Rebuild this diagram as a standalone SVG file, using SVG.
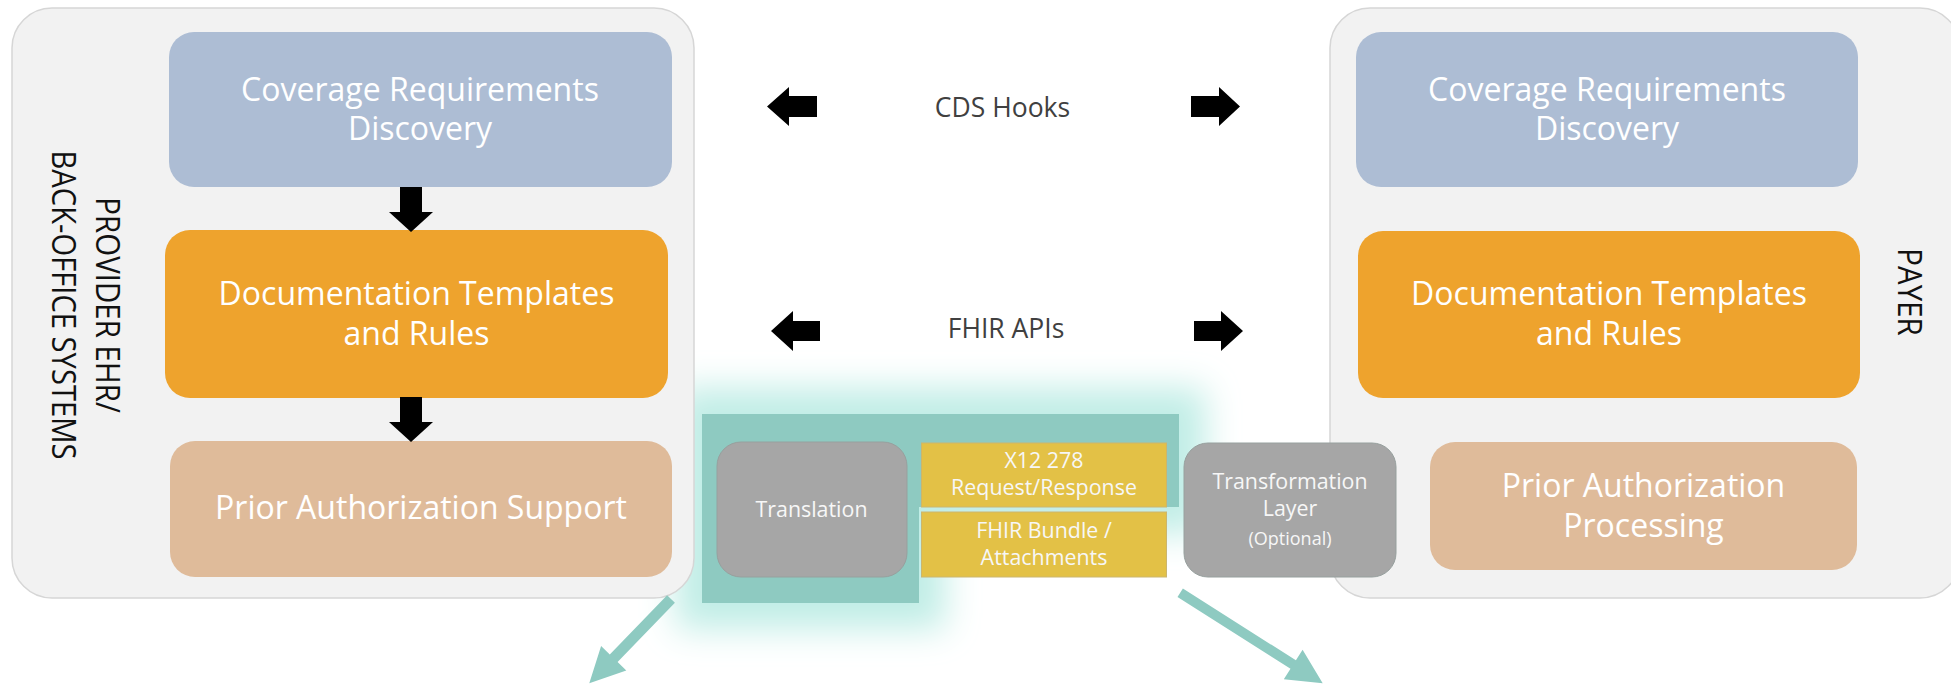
<svg xmlns="http://www.w3.org/2000/svg" width="1951" height="685" viewBox="0 0 1951 685">
  <defs>
    <style>
      text { font-family: "Open Sans", "Noto Sans", "DejaVu Sans", sans-serif; }
      .panel { fill: #f2f2f2; stroke: #d6d6d6; stroke-width: 1.5; }
      .crd { fill: #adbdd4; }
      .dtr { fill: #eea32d; }
      .pa { fill: #dfbb9a; }
      .grey { fill: #a6a6a6; stroke: #97a09e; stroke-width: 1; }
      .msg { fill: #e3c146; stroke: #cbb66e; stroke-width: 1; }
      .teal { fill: #8ecac1; }
      .big { font-size: 32px; fill: #ffffff; text-anchor: middle; }
      .small { font-size: 21.4px; fill: #f7f7f7; text-anchor: middle; }
      .api { font-size: 26.5px; fill: #404040; text-anchor: middle; }
      .side { font-size: 29.5px; fill: #111111; text-anchor: middle; }
      .blk { fill: #000000; }
    </style>
    <filter id="halo" x="-40%" y="-70%" width="180%" height="240%">
      <feMorphology in="SourceAlpha" operator="dilate" radius="26" result="grown"/>
      <feGaussianBlur in="grown" stdDeviation="17" result="soft"/>
      <feFlood flood-color="#c0ede6"/>
      <feComposite in2="soft" operator="in"/>
    </filter>
  </defs>

  <rect width="1951" height="685" fill="#ffffff"/>

  <!-- soft halo behind the exchange block -->
  <path d="M702,414 H1179 V507 H919 V603 H702 Z" fill="#000" filter="url(#halo)"/>

  <!-- provider side -->
  <g id="provider">
    <rect class="panel" x="12" y="8" width="682" height="590" rx="40"/>
    <text class="side" transform="translate(96,305) scale(1.12,1) rotate(90)">PROVIDER EHR/</text>
    <text class="side" transform="translate(52,305) scale(1.12,1) rotate(90)" textLength="309" lengthAdjust="spacingAndGlyphs">BACK-OFFICE SYSTEMS</text>
  </g>
  <g id="provider-crd">
    <rect class="crd" x="169" y="32" width="503" height="155" rx="25"/>
    <text class="big" x="420" y="101">Coverage Requirements</text>
    <text class="big" x="420" y="140">Discovery</text>
  </g>
  <g id="provider-dtr">
    <rect class="dtr" x="165" y="230" width="503" height="168" rx="25"/>
    <text class="big" x="416.5" y="305">Documentation Templates</text>
    <text class="big" x="416.5" y="345">and Rules</text>
  </g>
  <g id="provider-pas">
    <rect class="pa" x="170" y="441" width="502" height="136" rx="25"/>
    <text class="big" x="421" y="519">Prior Authorization Support</text>
  </g>

  <!-- payer side -->
  <g id="payer">
    <rect class="panel" x="1330" y="8" width="630" height="590" rx="40"/>
    <text class="side" transform="translate(1898,292) scale(1.12,1) rotate(90)">PAYER</text>
  </g>
  <g id="payer-crd">
    <rect class="crd" x="1356" y="32" width="502" height="155" rx="25"/>
    <text class="big" x="1607" y="101">Coverage Requirements</text>
    <text class="big" x="1607" y="140">Discovery</text>
  </g>
  <g id="payer-dtr">
    <rect class="dtr" x="1358" y="231" width="502" height="167" rx="25"/>
    <text class="big" x="1609" y="305">Documentation Templates</text>
    <text class="big" x="1609" y="345">and Rules</text>
  </g>
  <g id="payer-pap">
    <rect class="pa" x="1430" y="442" width="427" height="128" rx="25"/>
    <text class="big" x="1643.5" y="497">Prior Authorization</text>
    <text class="big" x="1643.5" y="537">Processing</text>
  </g>

  <!-- exchange block -->
  <g id="exchange">
    <path class="teal" d="M702,414 H1179 V507 H919 V603 H702 Z"/>
  </g>
  <g id="translation">
    <rect class="grey" x="717" y="442" width="190" height="135" rx="24"/>
    <text class="small" x="811.5" y="517">Translation</text>
  </g>
  <g id="x12-278">
    <rect class="msg" x="921.5" y="443" width="245" height="64"/>
    <text class="small" x="1044" y="468">X12 278</text>
    <text class="small" x="1044" y="495">Request/Response</text>
  </g>
  <g id="fhir-bundle">
    <rect class="msg" x="921.5" y="512" width="245" height="65"/>
    <text class="small" x="1044" y="538">FHIR Bundle /</text>
    <text class="small" x="1044" y="565">Attachments</text>
  </g>
  <g id="transformation">
    <rect class="grey" x="1184" y="443" width="212" height="134" rx="24"/>
    <text class="small" x="1290" y="489">Transformation</text>
    <text class="small" x="1290" y="516">Layer</text>
    <text class="small" x="1290" y="545" style="font-size:18px">(Optional)</text>
  </g>

  <!-- connectors -->
  <g id="connectors">
    <polygon class="blk" points="400,187 422,187 422,212 433,212 411,232 389,212 400,212"/>
    <polygon class="blk" points="400,397 422,397 422,422 433,422 411,442 389,422 400,422"/>
    <polygon class="blk" points="767,106.5 789,87 789,96 817,96 817,117 789,117 789,126"/>
    <polygon class="blk" points="1191,96 1219,96 1219,87 1240,106.5 1219,126 1219,117 1191,117"/>
    <polygon class="blk" points="771,331 793,311 793,321 820,321 820,341 793,341 793,351"/>
    <polygon class="blk" points="1194,321 1221,321 1221,311 1243,331 1221,351 1221,341 1194,341"/>
    <polygon class="teal" points="667.1,595.2 674.9,602.8 617.6,662.0 626.3,670.4 589.3,683.3 601.1,646.0 609.8,654.4"/>
    <polygon class="teal" points="1182.9,588.6 1295.9,660.3 1302.6,649.7 1322.7,683.3 1283.8,679.3 1290.5,668.7 1177.5,597.0"/>
  </g>
  <g id="connector-labels">
    <text class="api" x="1002.5" y="117">CDS Hooks</text>
    <text class="api" x="1006" y="338">FHIR APIs</text>
  </g>
</svg>
